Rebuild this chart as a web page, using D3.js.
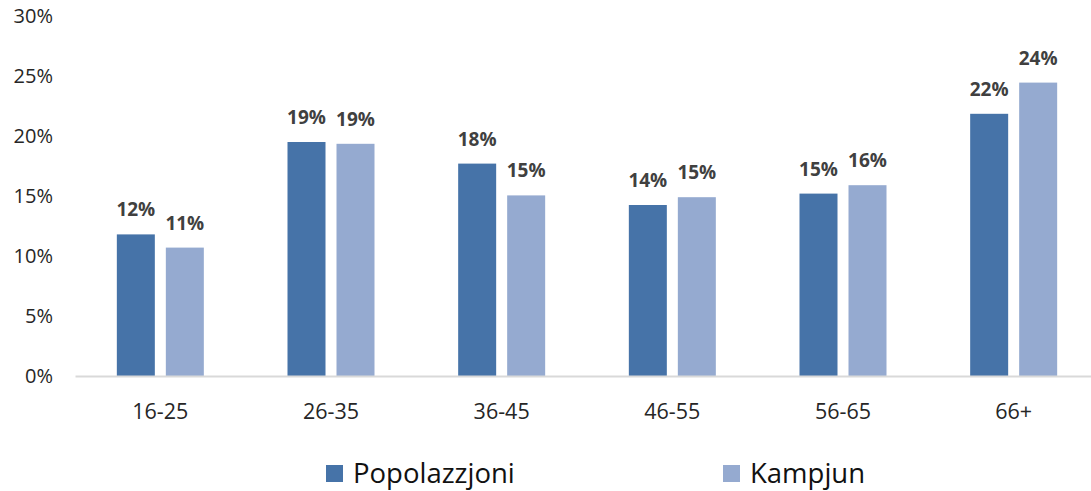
<!DOCTYPE html>
<html>
<head>
<meta charset="utf-8">
<script src="https://cdn.jsdelivr.net/npm/d3@7"></script>
<style>
  body { margin: 0; background: #fff; }
  text { font-family: "Open Sans", sans-serif; }
</style>
</head>
<body>
<svg id="chart"></svg>
<script>
// age groups and the two series (share in %)
var categories = ["16-25", "26-35", "36-45", "46-55", "56-65", "66+"];
var seriesNames = ["Popolazzjoni", "Kampjun"];
var popolazzjoni = [11.8, 19.5, 17.7, 14.25, 15.2, 21.85];
var kampjun = [10.7, 19.35, 15.05, 14.9, 15.9, 24.45];
var labelsPop = ["12%", "19%", "18%", "14%", "15%", "22%"];
var labelsKam = ["11%", "19%", "15%", "15%", "16%", "24%"];
var yTicks = [0, 5, 10, 15, 20, 25, 30];

var colors = ["#4673a8", "#95aad0"];

var width = 1091, height = 491;

var svg = d3.select("#chart")
    .attr("width", width)
    .attr("height", height);

var y = d3.scaleLinear()
    .domain([0, 30])
    .range([376, 16]);

var x0 = d3.scaleBand()
    .domain(categories)
    .range([75, 1099]);

// two bars, each ~38px with a small gap, centred in the group
var groupW = 87;
var x1 = d3.scaleBand()
    .domain(seriesNames)
    .range([(x0.bandwidth() - groupW) / 2, (x0.bandwidth() + groupW) / 2])
    .paddingInner(0.2245);

// y axis labels (no line)
svg.append("g")
    .attr("transform", "translate(53,0)")
    .call(d3.axisLeft(y).tickValues(yTicks).tickSize(0).tickPadding(0).tickFormat(d => d + "%"))
    .call(g => g.select(".domain").remove())
    .call(g => g.selectAll("text")
        .attr("font-family", "Open Sans")
        .attr("font-size", 20)
        .attr("fill", "#262626"));

var rows = categories.map((c, i) => ({
    cat: c,
    vals: [
        { s: seriesNames[0], v: popolazzjoni[i], label: labelsPop[i] },
        { s: seriesNames[1], v: kampjun[i], label: labelsKam[i] }
    ]
}));

var groups = svg.append("g")
    .selectAll("g")
    .data(rows)
    .join("g")
    .attr("transform", d => `translate(${x0(d.cat)},0)`);

groups.selectAll("rect")
    .data(d => d.vals)
    .join("rect")
    .attr("x", d => x1(d.s))
    .attr("y", d => y(d.v))
    .attr("width", x1.bandwidth())
    .attr("height", d => y(0) - y(d.v))
    .attr("fill", (d, i) => colors[i]);

groups.selectAll("text.lbl")
    .data(d => d.vals)
    .join("text")
    .attr("class", "lbl")
    .attr("x", d => x1(d.s) + x1.bandwidth() / 2)
    .attr("y", d => y(d.v) - 18)
    .attr("text-anchor", "middle")
    .attr("font-size", 19)
    .attr("font-weight", "bold")
    .attr("fill", "#404040")
    .text(d => d.label);

// x axis
svg.append("g")
    .attr("transform", `translate(0,${y(0)})`)
    .call(d3.axisBottom(x0).tickSize(0).tickPadding(0))
    .call(g => g.select(".domain").attr("stroke", "#d9d9d9").attr("stroke-width", 2))
    .call(g => g.selectAll("text")
        .attr("dy", null)
        .attr("y", 43)
        .attr("font-family", "Open Sans")
        .attr("font-size", 21.5)
        .attr("fill", "#262626"));

// legend
var legendX = [326, 723];
var legend = svg.append("g")
    .selectAll("g")
    .data(seriesNames)
    .join("g")
    .attr("transform", (d, i) => `translate(${legendX[i]},465)`);

legend.append("rect")
    .attr("width", 17)
    .attr("height", 17)
    .attr("fill", (d, i) => colors[i]);

legend.append("text")
    .attr("x", 27)
    .attr("y", 17.5)
    .attr("font-size", 27.5)
    .attr("fill", "#111")
    .text(d => d);
</script>
</body>
</html>
